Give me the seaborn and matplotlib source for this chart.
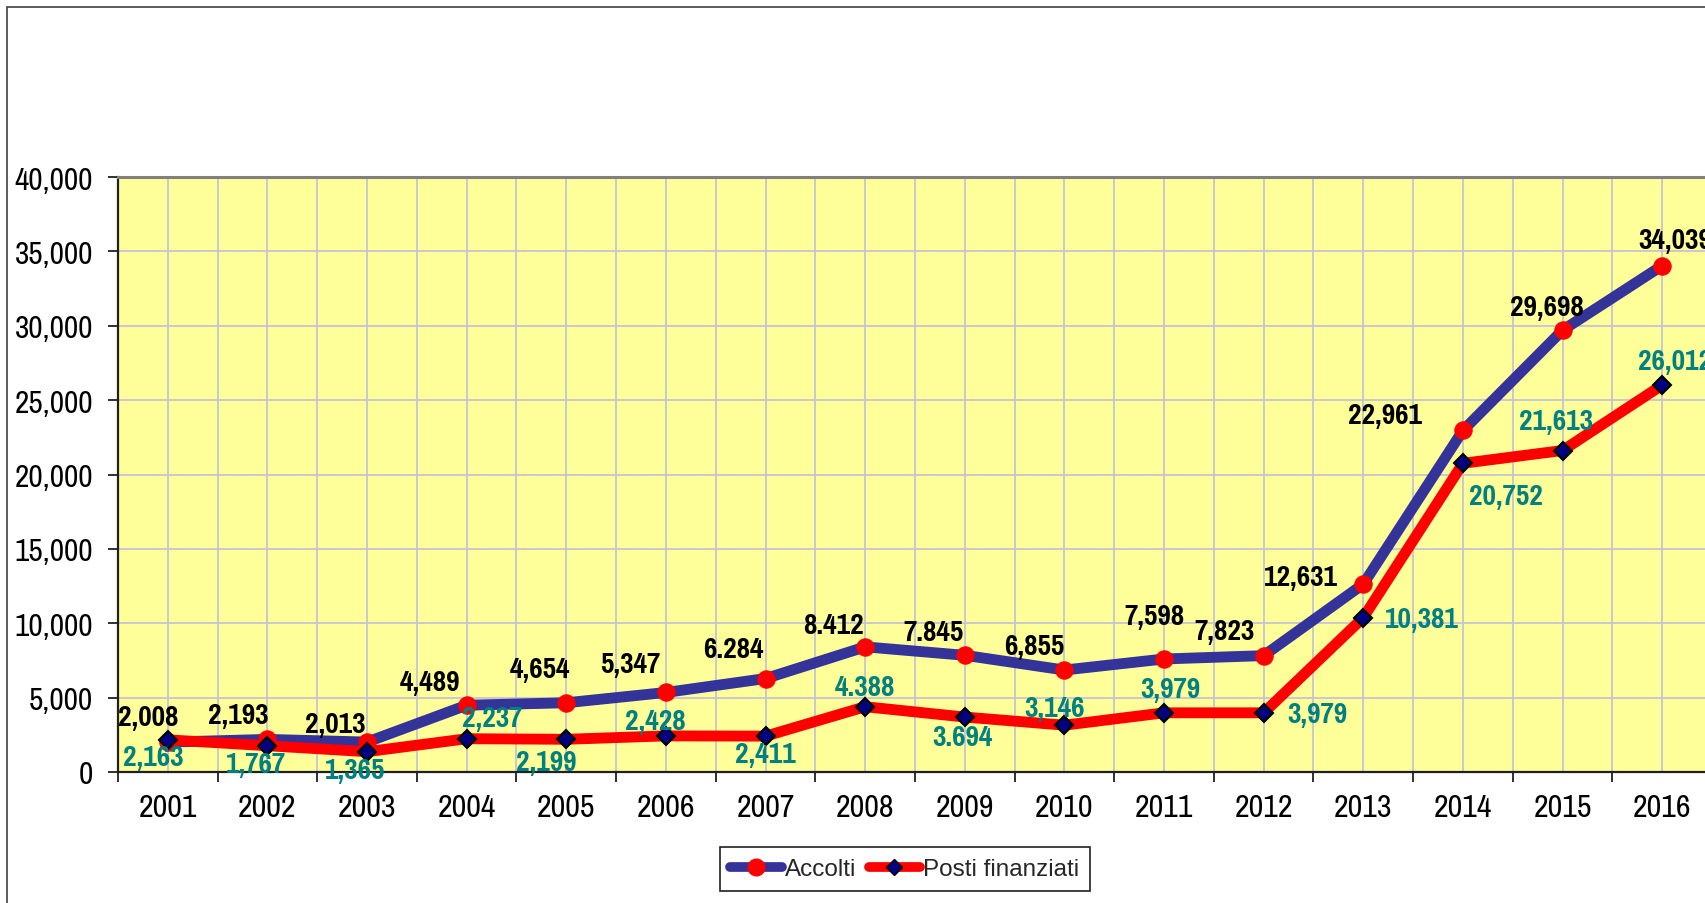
import pandas as pd
import matplotlib
matplotlib.use("Agg")
import matplotlib.pyplot as plt
import seaborn as sns
from matplotlib import font_manager as fm
from matplotlib.lines import Line2D
from matplotlib.patches import Rectangle
from matplotlib.ticker import FixedLocator, FuncFormatter

# --- data -------------------------------------------------------------
anni = ["2001", "2002", "2003", "2004", "2005", "2006", "2007", "2008",
        "2009", "2010", "2011", "2012", "2013", "2014", "2015", "2016"]
accolti = [2008, 2193, 2013, 4489, 4654, 5347, 6284, 8412,
           7845, 6855, 7598, 7823, 12631, 22961, 29698, 34039]
posti = [2163, 1767, 1365, 2237, 2199, 2428, 2411, 4388,
         3694, 3146, 3979, 3979, 10381, 20752, 21613, 26012]
# labels as printed on the chart (some use a dot as thousands separator)
accolti_lbl = ["2,008", "2,193", "2,013", "4,489", "4,654", "5,347", "6.284", "8.412",
               "7.845", "6,855", "7,598", "7,823", "12,631", "22,961", "29,698", "34,039"]
posti_lbl = ["2,163", "1,767", "1,365", "2,237", "2,199", "2,428", "2,411", "4.388",
             "3.694", "3,146", "3,979", "3,979", "10,381", "20,752", "21,613", "26,012"]

# label offsets in pixels (dx, dy up)
acc_off = [(-20, 25), (-29, 24), (-32, 18), (-37, 23), (-26, 34), (-36, 28), (-32, 30), (-32, 22),
           (-31, 23), (-30, 24), (-10, 43), (-39, 25), (-62, 7), (-78, 15), (-16, 23), (13, 26)]
pos_off = [(-15, -17), (-11, -18), (-12, -18), (26, 21), (-20, -23), (-11, 15), (0, -18), (0, 20),
           (-2, -20), (-10, 17), (6, 24), (54, -1), (59, -1), (43, -33), (-7, 30), (13, 24)]

COLORS = {
    "bg": "#FFFF99",
    "blue": "#333399",
    "red": "#FF0000",
    "navy": "#000080",
    "teal": "#008080",
    "grid": "#C4C4D4",
}


def pick(options, default):
    names = {f.name for f in fm.fontManager.ttflist}
    for n in options:
        if n in names:
            return n
    return default


NARROW = pick(["Liberation Sans Narrow", "Arial Narrow", "Pragati Narrow",
               "Roboto Condensed", "Archivo Narrow", "PT Sans Narrow"], "DejaVu Sans")
REGULAR = pick(["Arimo", "Liberation Sans", "Arial"], "DejaVu Sans")

sns.set_theme(style="white", rc={"axes.facecolor": COLORS["bg"]})
plt.rcParams["font.family"] = [NARROW, "DejaVu Sans"]

df = pd.DataFrame({"anno": anni, "Accolti": accolti, "Posti finanziati": posti})

fig = plt.figure(figsize=(17.06, 9.04), dpi=100)
ax = fig.add_axes([118 / 1706, 131 / 904, 1594 / 1706, 595 / 904])

sns.lineplot(data=df, x="anno", y="Accolti", ax=ax, color=COLORS["blue"], lw=7.8,
             marker="o", markersize=12.5, markerfacecolor=COLORS["red"],
             markeredgecolor=COLORS["red"], sort=False, zorder=3)
sns.lineplot(data=df, x="anno", y="Posti finanziati", ax=ax, color=COLORS["red"], lw=7.8,
             marker="D", markersize=8.7, markerfacecolor=COLORS["navy"],
             markeredgecolor="black", markeredgewidth=1.5, sort=False, zorder=4)

ax.set_xlim(-0.5, len(anni) - 0.5)
ax.set_ylim(0, 40000)
ax.set_yticks(range(0, 40001, 5000))
ax.yaxis.set_major_formatter(FuncFormatter(lambda v, p: f"{int(v):,}"))
ax.xaxis.set_minor_locator(FixedLocator([i + 0.5 for i in range(-1, len(anni))]))

ax.grid(True, which="both", axis="x", color=COLORS["grid"], lw=1.3)
ax.grid(True, which="major", axis="y", color=COLORS["grid"], lw=1.3)
ax.set_axisbelow(True)

ax.tick_params(axis="x", which="major", length=0, pad=15, labelsize=25, colors="black")
ax.tick_params(axis="x", which="minor", length=7, width=1.3, direction="out",
               color="#202020", bottom=True)
ax.tick_params(axis="y", which="major", length=7, width=1.3, direction="out",
               pad=11, labelsize=24.5, color="#202020", left=True, labelcolor="black")
ax.set_xlabel("")
ax.set_ylabel("")

for side in ["left", "bottom"]:
    ax.spines[side].set_color("#202020")
    ax.spines[side].set_linewidth(1.6)
ax.spines["top"].set_color("#808080")
ax.spines["top"].set_linewidth(2.2)
ax.spines["right"].set_visible(False)

for i, (v, t, (dx, dy)) in enumerate(zip(accolti, accolti_lbl, acc_off)):
    ax.annotate(t, (i, v), xytext=(dx, dy), textcoords="offset pixels", ha="center", va="center",
                fontsize=23, fontweight="bold", color="black", zorder=6)
for i, (v, t, (dx, dy)) in enumerate(zip(posti, posti_lbl, pos_off)):
    ax.annotate(t, (i, v), xytext=(dx, dy), textcoords="offset pixels", ha="center", va="center",
                fontsize=23, fontweight="bold", color=COLORS["teal"], zorder=6)

handles = [
    Line2D([], [], color=COLORS["blue"], lw=7, solid_capstyle="round", marker="o",
           markersize=12, markerfacecolor=COLORS["red"], markeredgecolor=COLORS["red"]),
    Line2D([], [], color=COLORS["red"], lw=7, solid_capstyle="round", marker="D",
           markersize=8, markerfacecolor=COLORS["navy"], markeredgecolor="black"),
]
leg = fig.legend(handles, ["Accolti", "Posti finanziati"], loc="center",
                 bbox_to_anchor=(905 / 1706, 1 - 870 / 904), ncol=2, frameon=True,
                 fancybox=False, framealpha=1, facecolor="white", edgecolor="#202020",
                 handlelength=2.1, handletextpad=0.15, columnspacing=0.5, borderpad=0.45,
                 prop={"family": REGULAR, "size": 17.5})
leg.get_frame().set_linewidth(1.2)

# outer chart-area frame (cut off at right and bottom)
fig.patches.append(Rectangle((7 / 1706, -0.1), 1.2, 1 - 8 / 904 + 0.1, transform=fig.transFigure,
                             fill=False, edgecolor="#404040", lw=1.2))

fig.savefig("out.png", dpi=100)
